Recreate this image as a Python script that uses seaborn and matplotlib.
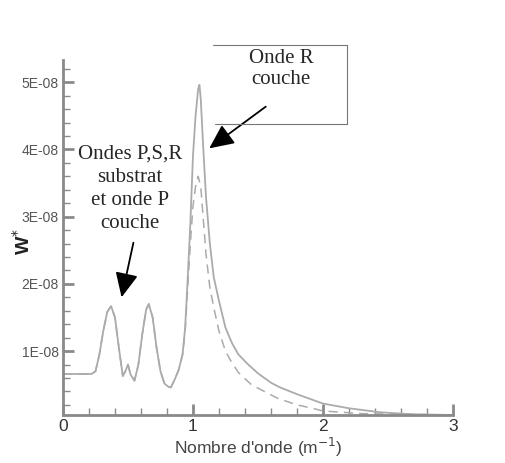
import numpy as np
import pandas as pd
import matplotlib
matplotlib.use("Agg")
import matplotlib.pyplot as plt
import seaborn as sns
from matplotlib.lines import Line2D

# --- DATA (wave number k in m^-1, W* in units of 1E-08) ---
k_solid = [0.00, 0.22, 0.25, 0.28, 0.31, 0.34, 0.37, 0.40, 0.43, 0.46, 0.48,
           0.50, 0.52, 0.55, 0.58, 0.61, 0.64, 0.66, 0.69, 0.72, 0.75, 0.78,
           0.81, 0.83, 0.86, 0.89, 0.92, 0.94, 0.96, 0.98, 1.00, 1.02, 1.04,
           1.05, 1.06, 1.08, 1.10, 1.13, 1.16, 1.20, 1.25, 1.30, 1.35, 1.42,
           1.50, 1.60, 1.67, 1.80, 2.00, 2.20, 2.44, 2.70, 3.00]
w_solid = [0.66, 0.66, 0.70, 0.95, 1.30, 1.58, 1.67, 1.50, 1.05, 0.63, 0.70,
           0.80, 0.65, 0.56, 0.80, 1.25, 1.62, 1.70, 1.50, 1.05, 0.70, 0.52,
           0.47, 0.46, 0.58, 0.72, 0.95, 1.35, 2.10, 2.90, 3.90, 4.50, 4.90,
           4.96, 4.75, 4.00, 3.30, 2.60, 2.10, 1.75, 1.35, 1.12, 0.95, 0.81,
           0.67, 0.53, 0.46, 0.36, 0.22, 0.15, 0.09, 0.06, 0.05]

k_dash = [0.00, 0.22, 0.25, 0.28, 0.31, 0.34, 0.37, 0.40, 0.43, 0.46, 0.48,
          0.50, 0.52, 0.55, 0.58, 0.61, 0.64, 0.66, 0.69, 0.72, 0.75, 0.78,
          0.81, 0.83, 0.86, 0.89, 0.92, 0.94, 0.96, 0.98, 1.00, 1.02, 1.04,
          1.06, 1.08, 1.10, 1.13, 1.16, 1.20, 1.25, 1.29, 1.35, 1.45, 1.54,
          1.65, 1.80, 1.92, 2.00, 2.30, 2.60, 3.00]
w_dash = [0.66, 0.66, 0.70, 0.95, 1.30, 1.58, 1.67, 1.50, 1.05, 0.63, 0.70,
          0.80, 0.65, 0.56, 0.80, 1.25, 1.62, 1.70, 1.50, 1.05, 0.70, 0.52,
          0.47, 0.46, 0.58, 0.72, 0.95, 1.30, 1.95, 2.60, 3.15, 3.45, 3.60,
          3.45, 2.95, 2.45, 1.95, 1.65, 1.30, 1.00, 0.86, 0.68, 0.50, 0.41,
          0.30, 0.20, 0.15, 0.11, 0.07, 0.06, 0.05]

x_ticks = [0, 1, 2, 3]
y_ticks = [1, 2, 3, 4, 5]
y_tick_labels = ['1E-08', '2E-08', '3E-08', '4E-08', '5E-08']

solid_df = pd.DataFrame({'k': k_solid, 'w': np.array(w_solid) * 1e-8})
dash_df = pd.DataFrame({'k': k_dash, 'w': np.array(w_dash) * 1e-8})

sns.set_style("ticks")
plt.rcParams['font.family'] = ['Liberation Sans', 'DejaVu Sans']

line_col = '#ababab'
axis_col = '#8a8a8a'
label_col = '#555555'

fig = plt.figure(figsize=(5.06, 4.63), dpi=100)
ax = fig.add_axes([0.1245, 0.1037, 0.7705, 0.7667])

sns.lineplot(data=solid_df, x='k', y='w', ax=ax, color=line_col, linewidth=1.3,
             sort=False, estimator=None)
sns.lineplot(data=dash_df, x='k', y='w', ax=ax, color=line_col, linewidth=1.1,
             linestyle=(0, (6, 4)), sort=False, estimator=None)

ax.set_xlim(0, 3)
ax.set_ylim(0.05e-8, 5.33e-8)
ax.set_xticks(x_ticks)
ax.set_xticklabels([str(t) for t in x_ticks], fontsize=12.5, color='#333333')
ax.set_xticks(np.arange(0, 3.01, 0.2), minor=True)
ax.set_yticks(np.array(y_ticks) * 1e-8)
ax.set_yticklabels(y_tick_labels, fontsize=10, color=label_col)
ax.set_yticks(np.arange(0.2, 5.31, 0.2) * 1e-8, minor=True)
ax.tick_params(axis='both', which='major', direction='in', length=8, width=2,
               color=axis_col, pad=3)
ax.tick_params(axis='both', which='minor', direction='in', length=5, width=1,
               color=axis_col)

sns.despine(ax=ax)
for side in ['left', 'bottom']:
    ax.spines[side].set_color(axis_col)
    ax.spines[side].set_linewidth(2)

ax.set_xlabel("Nombre d'onde (m$^{-1}$)", fontsize=12.5, color='#444444', labelpad=1)
ax.set_ylabel('W$^{*}$', fontsize=14, fontweight='bold', color='#222222')
ax.yaxis.set_label_coords(-0.075, 0.49)

# annotation: Rayleigh wave of the layer
serif = ['Liberation Serif', 'DejaVu Serif']
fig.text(281 / 506, 1 - 69 / 463, 'Onde R\ncouche', ha='center', va='center',
         fontsize=15, family=serif, linespacing=1.2)
box_col = '#777777'
fig.add_artist(Line2D([213 / 506, 347 / 506], [1 - 45 / 463, 1 - 45 / 463],
                      color=box_col, lw=0.8, transform=fig.transFigure))
fig.add_artist(Line2D([347 / 506, 347 / 506], [1 - 45 / 463, 1 - 124 / 463],
                      color=box_col, lw=0.8, transform=fig.transFigure))
fig.add_artist(Line2D([215 / 506, 347 / 506], [1 - 124 / 463, 1 - 124 / 463],
                      color=box_col, lw=0.8, transform=fig.transFigure))
ax.annotate('', xy=(207 / 506, 1 - 150 / 463), xycoords='figure fraction',
            xytext=(268 / 506, 1 - 105 / 463), textcoords='figure fraction',
            arrowprops=dict(arrowstyle='-|>,head_length=1.5,head_width=0.7',
                            color='black', lw=1.3))

# annotation: P,S,R waves of the substrate and P wave of the layer
fig.text(130 / 506, 1 - 189 / 463, 'Ondes P,S,R\nsubstrat\net onde P\ncouche',
         ha='center', va='center', fontsize=15, family=serif, linespacing=1.3)
ax.annotate('', xy=(121 / 506, 1 - 300 / 463), xycoords='figure fraction',
            xytext=(134 / 506, 1 - 240 / 463), textcoords='figure fraction',
            arrowprops=dict(arrowstyle='-|>,head_length=1.5,head_width=0.7',
                            color='black', lw=1.3))

fig.savefig('out.png', dpi=100)
